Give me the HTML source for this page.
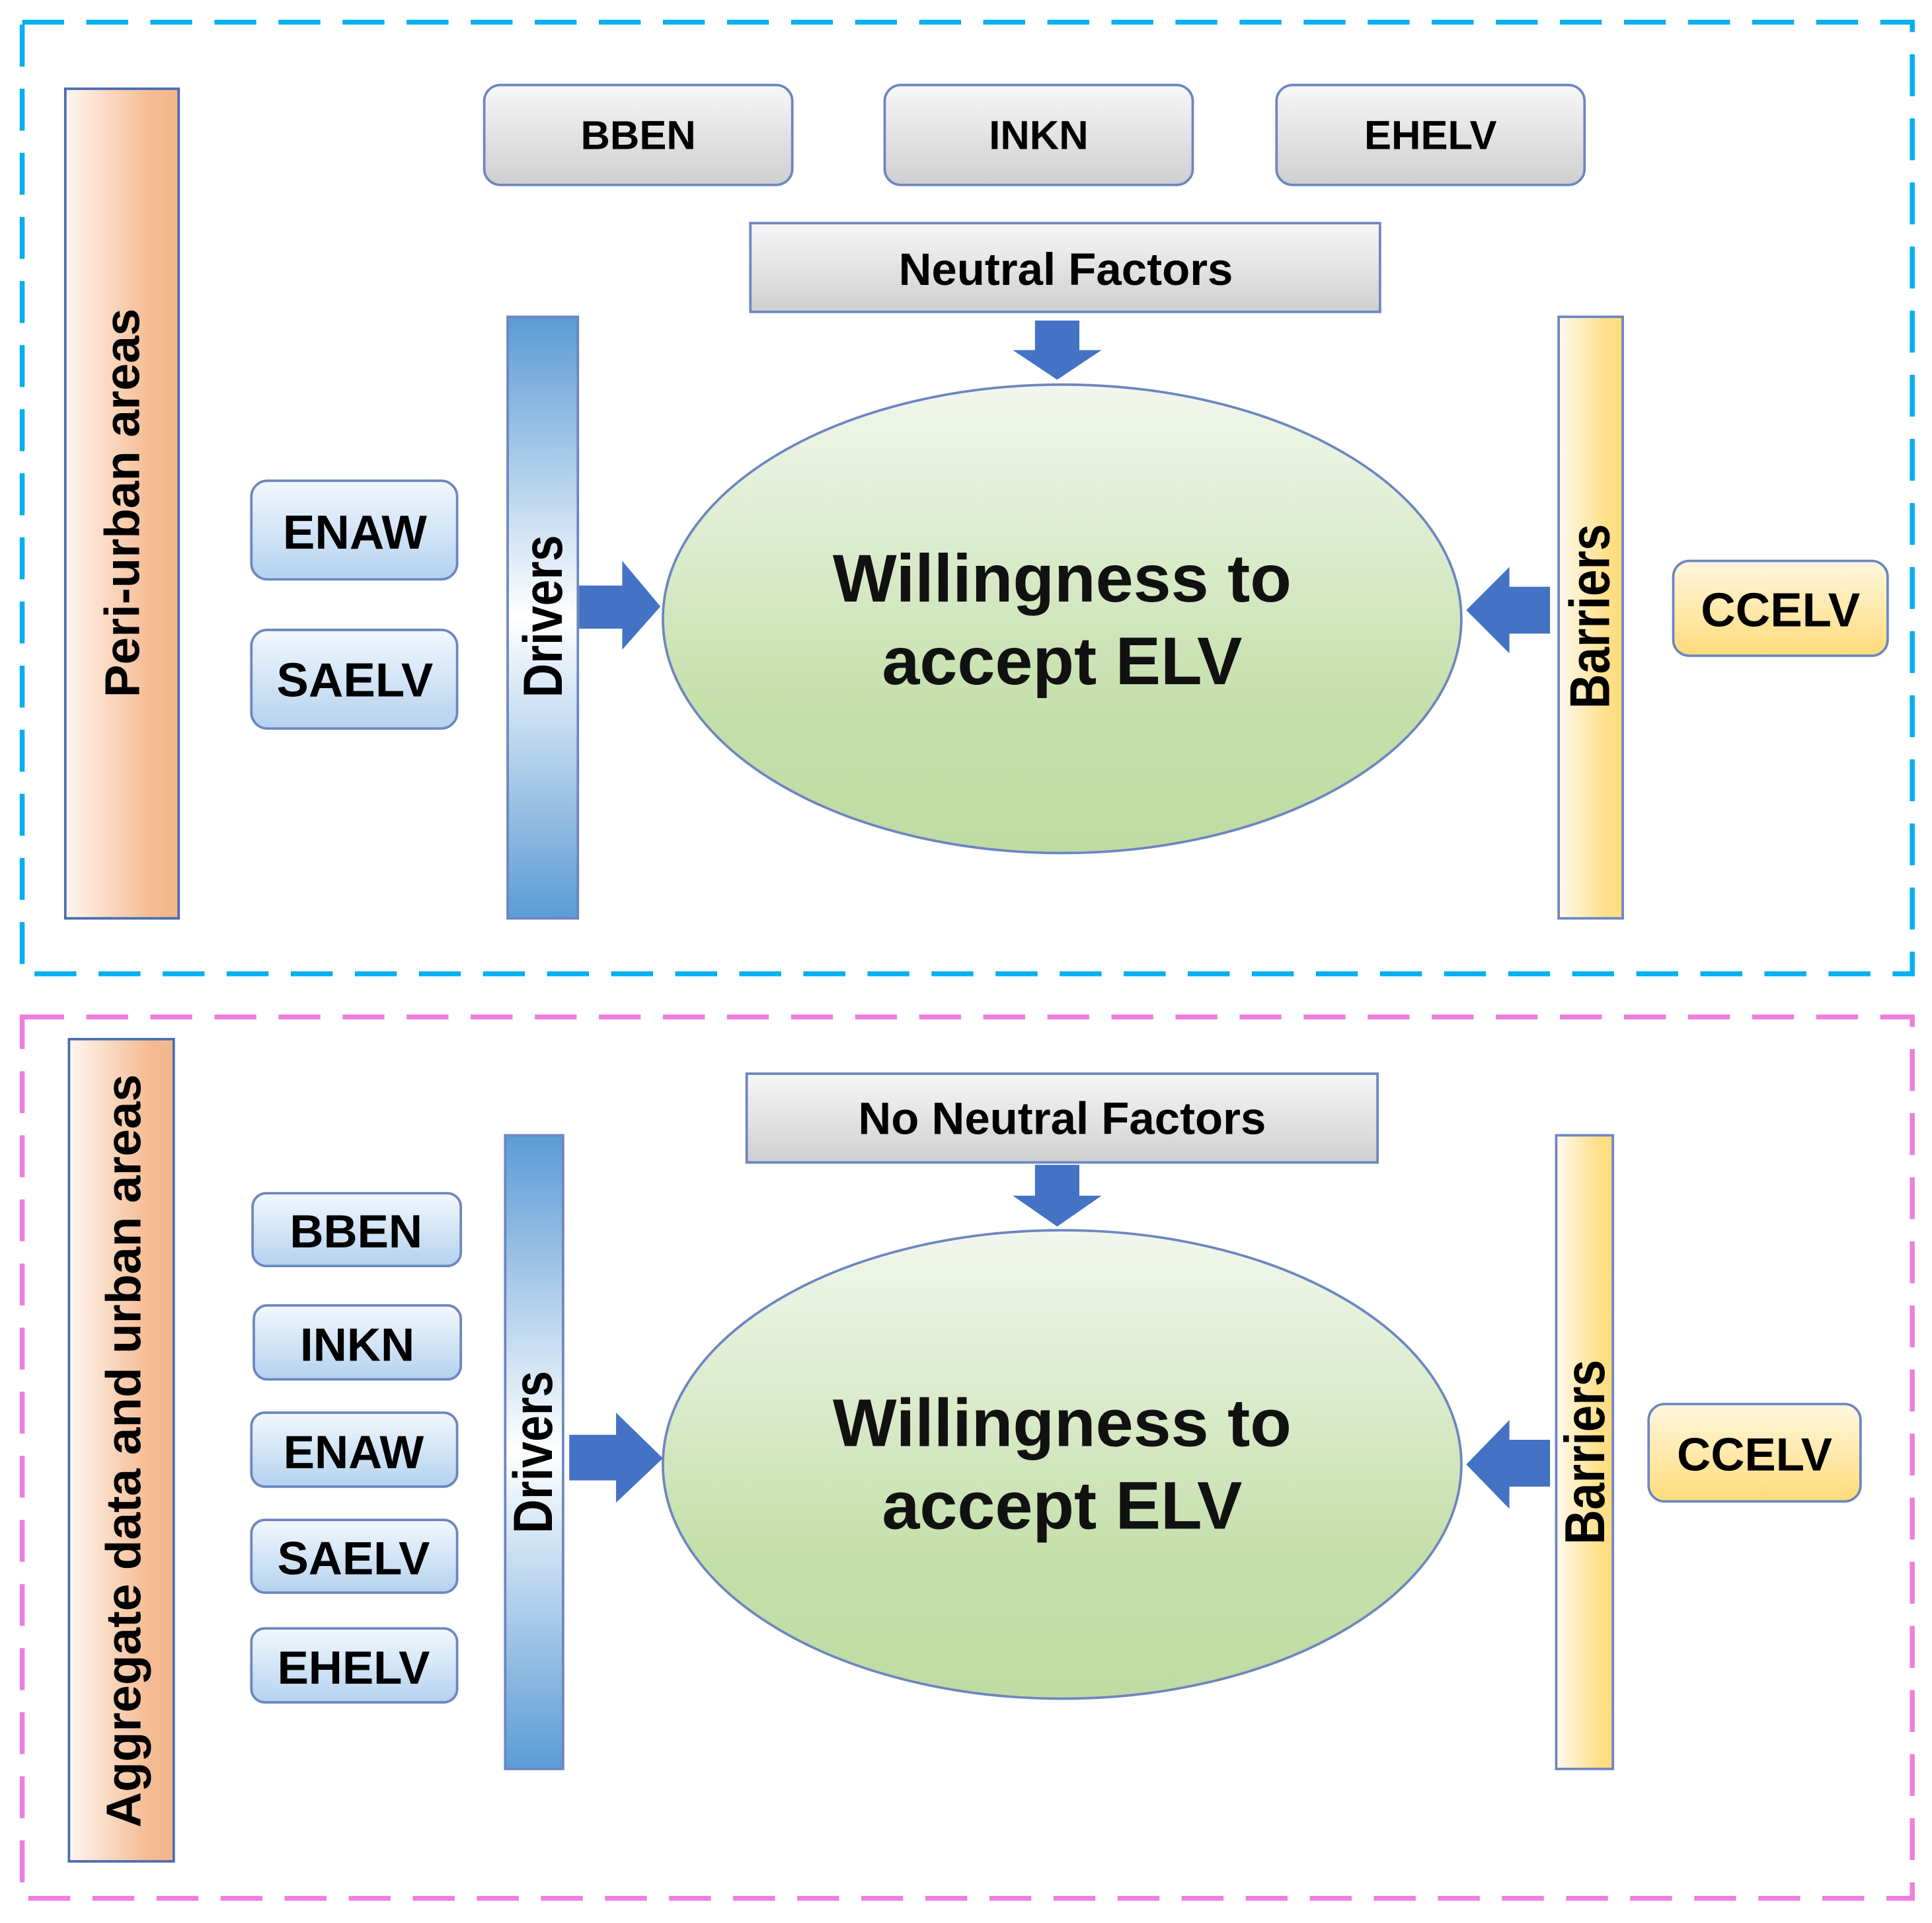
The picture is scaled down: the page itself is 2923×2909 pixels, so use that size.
<!DOCTYPE html>
<html><head><style>html,body{margin:0;padding:0;background:#fff}svg{display:block}</style></head><body>
<svg width="2923" height="2909" viewBox="0 0 1568 1560" preserveAspectRatio="none" xmlns="http://www.w3.org/2000/svg" font-family="Liberation Sans, Arial, sans-serif" font-weight="bold">
<defs>
<linearGradient id="gray" x1="0" y1="0" x2="0" y2="1"><stop offset="0" stop-color="#f7f7f7"/><stop offset="1" stop-color="#cfcfcf"/></linearGradient>
<linearGradient id="blueb" x1="0" y1="0" x2="0" y2="1"><stop offset="0" stop-color="#f3f8fd"/><stop offset="1" stop-color="#b4d2ef"/></linearGradient>
<linearGradient id="yel" x1="0" y1="0" x2="0" y2="1"><stop offset="0" stop-color="#fff7e0"/><stop offset="1" stop-color="#ffdb7a"/></linearGradient>
<linearGradient id="org" x1="0" y1="0" x2="1" y2="0"><stop offset="0" stop-color="#fff6f0"/><stop offset="0.75" stop-color="#f5bc94"/><stop offset="1" stop-color="#f3b68b"/></linearGradient>
<linearGradient id="ybar" x1="0" y1="0" x2="1" y2="0"><stop offset="0" stop-color="#fffaf0"/><stop offset="0.75" stop-color="#ffdf88"/><stop offset="1" stop-color="#ffdc80"/></linearGradient>
<linearGradient id="dbar" x1="0" y1="0" x2="0" y2="1"><stop offset="0" stop-color="#5b9bd5"/><stop offset="0.5" stop-color="#ffffff"/><stop offset="1" stop-color="#5b9bd5"/></linearGradient>
<linearGradient id="grn" x1="0" y1="0" x2="0" y2="1"><stop offset="0" stop-color="#f2f7ee"/><stop offset="0.7" stop-color="#c5dfaa"/><stop offset="1" stop-color="#c0dba3"/></linearGradient>
</defs>
<rect x="18" y="18" width="1534" height="772" fill="none" stroke="#00b0f0" stroke-width="4" stroke-dasharray="34,18"/>
<rect x="18" y="825" width="1534" height="715" fill="none" stroke="#ee7fdf" stroke-width="4" stroke-dasharray="34,18"/>

<rect x="53" y="72" width="92" height="673" fill="url(#org)" stroke="#4a6bb0" stroke-width="2"/>
<text transform="translate(113,408) rotate(-90)" text-anchor="middle" font-size="40">Peri-urban areas</text>

<g stroke="#6c86c0" stroke-width="2">
<rect x="393" y="69" width="250" height="81" rx="13" fill="url(#gray)"/>
<rect x="718" y="69" width="250" height="81" rx="13" fill="url(#gray)"/>
<rect x="1036" y="69" width="250" height="81" rx="13" fill="url(#gray)"/>
<rect x="609" y="181" width="511" height="72" fill="url(#gray)"/>
<rect x="412" y="257" width="57" height="488" fill="url(#dbar)"/>
<rect x="204" y="390" width="167" height="80" rx="13" fill="url(#blueb)"/>
<rect x="204" y="511" width="167" height="80" rx="13" fill="url(#blueb)"/>
<ellipse cx="862" cy="502" rx="324" ry="190" fill="url(#grn)"/>
<rect x="1265" y="257" width="52" height="488" fill="url(#ybar)"/>
<rect x="1358" y="455" width="174" height="77" rx="13" fill="url(#yel)"/>
</g>
<g font-size="33" text-anchor="middle">
<text x="518" y="121">BBEN</text><text x="843" y="121">INKN</text><text x="1161" y="121">EHELV</text>
</g>
<text x="865" y="231" text-anchor="middle" font-size="37">Neutral Factors</text>
<g font-size="39" text-anchor="middle"><text x="288" y="445">ENAW</text><text x="288" y="565">SAELV</text><text x="1445" y="508">CCELV</text></g>
<text transform="translate(456,500) rotate(-90) scale(0.85,1)" text-anchor="middle" font-size="45">Drivers</text>
<text transform="translate(1306,500) rotate(-90) scale(0.85,1)" text-anchor="middle" font-size="46">Barriers</text>
<g fill="#4472c4">
<polygon points="840,260 876,260 876,284 894,284 858,308 822,284 840,284"/>
<polygon points="470,475 505,475 505,455 536,492 505,527 505,510 470,510"/>
<polygon points="1258,476 1225,476 1225,460 1190,495 1225,530 1225,514 1258,514"/>
</g>
<g font-size="55" text-anchor="middle" fill="#111"><text x="862" y="488">Willingness to</text><text x="862" y="555">accept ELV</text></g>

<rect x="56" y="843" width="85" height="667" fill="url(#org)" stroke="#4a6bb0" stroke-width="2"/>
<text transform="translate(114,1177) rotate(-90)" text-anchor="middle" font-size="40">Aggregate data and urban areas</text>
<g stroke="#6c86c0" stroke-width="2">
<rect x="606" y="871" width="512" height="72" fill="url(#gray)"/>
<rect x="410" y="921" width="47" height="514" fill="url(#dbar)"/>
<rect x="205" y="968" width="169" height="59" rx="11" fill="url(#blueb)"/>
<rect x="206" y="1059" width="168" height="60" rx="11" fill="url(#blueb)"/>
<rect x="204" y="1146" width="167" height="60" rx="11" fill="url(#blueb)"/>
<rect x="204" y="1233" width="167" height="59" rx="11" fill="url(#blueb)"/>
<rect x="204" y="1321" width="167" height="60" rx="11" fill="url(#blueb)"/>
<ellipse cx="862" cy="1188" rx="324" ry="190" fill="url(#grn)"/>
<rect x="1263" y="921" width="46" height="514" fill="url(#ybar)"/>
<rect x="1338" y="1139" width="172" height="79" rx="13" fill="url(#yel)"/>
</g>
<text x="862" y="920" text-anchor="middle" font-size="37">No Neutral Factors</text>
<g font-size="38" text-anchor="middle">
<text x="289" y="1012">BBEN</text><text x="290" y="1104">INKN</text><text x="287" y="1191">ENAW</text><text x="287" y="1277">SAELV</text><text x="287" y="1366">EHELV</text><text x="1424" y="1193">CCELV</text>
</g>
<text transform="translate(448,1178) rotate(-90) scale(0.85,1)" text-anchor="middle" font-size="45">Drivers</text>
<text transform="translate(1302,1178) rotate(-90) scale(0.85,1)" text-anchor="middle" font-size="46">Barriers</text>
<g fill="#4472c4">
<polygon points="840,945 876,945 876,970 894,970 858,995 822,970 840,970"/>
<polygon points="462,1164 500,1164 500,1146 538,1183 500,1219 500,1201 462,1201"/>
<polygon points="1258,1168 1225,1168 1225,1152 1190,1188 1225,1224 1225,1206 1258,1206"/>
</g>
<g font-size="55" text-anchor="middle" fill="#111"><text x="862" y="1173">Willingness to</text><text x="862" y="1240">accept ELV</text></g>
</svg>
</body></html>
